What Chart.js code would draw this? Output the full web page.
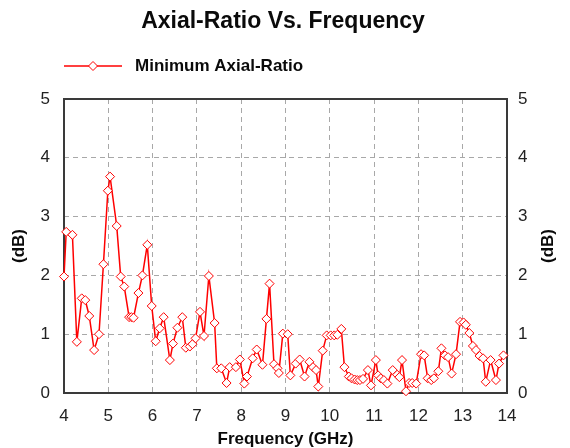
<!DOCTYPE html>
<html>
<head>
<meta charset="utf-8">
<script src="https://cdn.jsdelivr.net/npm/chart.js@4/dist/chart.umd.min.js"></script>
<style>
  html, body { margin: 0; padding: 0; background: #fff; }
  #wrap { width: 570px; height: 448px; }
</style>
</head>
<body>
<div id="wrap"><canvas id="c" width="570" height="448"></canvas></div>
<script>
const chartTitle = "Axial-Ratio Vs. Frequency";
const seriesName = "Minimum Axial-Ratio";
const xAxisTitle = "Frequency (GHz)";
const yAxisTitle = "(dB)";
const xTicks = [4, 5, 6, 7, 8, 9, 10, 11, 12, 13, 14];
const yTicks = [0, 1, 2, 3, 4, 5];

const freqGHz = [
  4.00, 4.05, 4.19, 4.29, 4.40, 4.48, 4.57, 4.68, 4.79, 4.89,
  4.99, 5.04, 5.19, 5.28, 5.36, 5.47, 5.52, 5.57, 5.68, 5.77,
  5.88, 5.98, 6.07, 6.16, 6.25, 6.39, 6.46, 6.56, 6.67, 6.75,
  6.84, 6.90, 6.97, 7.07, 7.16, 7.27, 7.40, 7.45, 7.55, 7.67,
  7.74, 7.88, 7.97, 8.07, 8.13, 8.26, 8.35, 8.48, 8.57, 8.64,
  8.74, 8.82, 8.85, 8.94, 9.05, 9.11, 9.23, 9.32, 9.43, 9.54,
  9.62, 9.69, 9.74, 9.84, 9.93, 10.02, 10.10, 10.17, 10.26, 10.33,
  10.43, 10.49, 10.56, 10.62, 10.68, 10.75, 10.86, 10.93, 11.04, 11.09,
  11.15, 11.22, 11.30, 11.42, 11.52, 11.57, 11.63, 11.72, 11.79, 11.86,
  11.95, 12.06, 12.13, 12.21, 12.29, 12.35, 12.45, 12.52, 12.60, 12.67,
  12.75, 12.85, 12.94, 13.02, 13.07, 13.15, 13.23, 13.30, 13.38, 13.46,
  13.52, 13.63, 13.75, 13.82, 13.92
];
const axialRatio = [
  1.98, 2.74, 2.69, 0.87, 1.61, 1.58, 1.31, 0.73, 1.00, 2.19,
  3.44, 3.68, 2.84, 1.98, 1.81, 1.29, 1.29, 1.28, 1.70, 2.00,
  2.52, 1.48, 0.88, 1.10, 1.29, 0.56, 0.84, 1.11, 1.29, 0.77,
  0.79, 0.83, 0.93, 1.38, 0.97, 1.99, 1.19, 0.42, 0.42, 0.17,
  0.44, 0.44, 0.57, 0.16, 0.28, 0.59, 0.74, 0.48, 1.26, 1.86,
  0.49, 0.42, 0.34, 1.01, 1.00, 0.30, 0.50, 0.57, 0.28, 0.53,
  0.44, 0.39, 0.11, 0.72, 0.98, 0.98, 0.98, 0.99, 1.09, 0.44,
  0.28, 0.25, 0.23, 0.22, 0.22, 0.24, 0.39, 0.13, 0.56, 0.30,
  0.25, 0.22, 0.16, 0.39, 0.31, 0.27, 0.56, 0.03, 0.17, 0.17,
  0.16, 0.66, 0.64, 0.25, 0.22, 0.25, 0.37, 0.76, 0.64, 0.61,
  0.33, 0.66, 1.21, 1.20, 1.16, 1.02, 0.80, 0.73, 0.63, 0.59,
  0.19, 0.56, 0.22, 0.50, 0.64
];

const RED = '#ff0000';
const FONT = '"Liberation Sans", Arial, sans-serif';
const TEXT = '#0a0a0a';

const decorPlugin = {
  id: 'decor',
  beforeDatasetsDraw(chart) {
    const { ctx, chartArea: a } = chart;
    ctx.save();
    ctx.strokeStyle = '#3a3a3a';
    ctx.lineWidth = 2;
    ctx.setLineDash([]);
    ctx.strokeRect(a.left, a.top, a.right - a.left, a.bottom - a.top);
    ctx.restore();
  },
  afterDraw(chart) {
    const { ctx, chartArea: a } = chart;
    ctx.save();
    // title
    ctx.fillStyle = TEXT;
    ctx.font = 'bold 23px ' + FONT;
    ctx.textAlign = 'center';
    ctx.textBaseline = 'middle';
    ctx.fillText(chartTitle, 283, 22);
    // legend
    const ly = 66;
    ctx.strokeStyle = RED;
    ctx.lineWidth = 1.5;
    ctx.beginPath();
    ctx.moveTo(64, ly);
    ctx.lineTo(122, ly);
    ctx.stroke();
    ctx.fillStyle = '#fff';
    ctx.lineWidth = 1;
    ctx.beginPath();
    ctx.moveTo(93, ly - 4.5);
    ctx.lineTo(97.5, ly);
    ctx.lineTo(93, ly + 4.5);
    ctx.lineTo(88.5, ly);
    ctx.closePath();
    ctx.fill();
    ctx.stroke();
    ctx.fillStyle = TEXT;
    ctx.font = 'bold 17px ' + FONT;
    ctx.textAlign = 'left';
    ctx.fillText(seriesName, 135, ly);
    // right axis title, rotated like the left one
    ctx.translate(548, (a.top + a.bottom) / 2);
    ctx.rotate(-Math.PI / 2);
    ctx.font = 'bold 17px ' + FONT;
    ctx.textAlign = 'center';
    ctx.fillText(yAxisTitle, 0, 0);
    ctx.restore();
  }
};

const gridOpts = { color: '#a8a8a8', lineWidth: 1, drawTicks: false };
const tickFont = { family: FONT, size: 17 };
const titleFont = { family: FONT, size: 17, weight: 'bold' };

new Chart(document.getElementById('c'), {
  type: 'line',
  data: {
    datasets: [{
      label: seriesName,
      data: freqGHz.map((f, i) => ({ x: f, y: axialRatio[i] })),
      borderColor: RED,
      borderWidth: 1.5,
      backgroundColor: '#ffffff',
      pointStyle: 'rectRot',
      pointRadius: 4.5,
      pointBorderWidth: 1,
      pointBorderColor: RED,
      pointBackgroundColor: '#ffffff',
      tension: 0,
      clip: false
    }]
  },
  options: {
    responsive: false,
    animation: false,
    layout: { padding: { top: 99, left: 0, right: 0, bottom: 0 } },
    plugins: {
      legend: { display: false },
      title: { display: false },
      tooltip: { enabled: false }
    },
    scales: {
      x: {
        type: 'linear',
        position: 'bottom',
        min: xTicks[0],
        max: xTicks[xTicks.length - 1],
        afterBuildTicks(scale) { scale.ticks = xTicks.map(v => ({ value: v })); },
        afterFit(scale) { scale.height = 55; },
        grid: gridOpts,
        border: { display: false, dash: [5, 4] },
        ticks: { font: tickFont, color: '#222', padding: 13, maxRotation: 0 },
        title: { display: true, text: xAxisTitle, font: titleFont, color: TEXT, padding: { top: 0, bottom: -2 } }
      },
      y: {
        type: 'linear',
        position: 'left',
        min: yTicks[0],
        max: yTicks[yTicks.length - 1],
        afterBuildTicks(scale) { scale.ticks = yTicks.map(v => ({ value: v })); },
        afterFit(scale) { scale.width = 64; },
        grid: gridOpts,
        border: { display: false, dash: [5, 4] },
        ticks: { font: tickFont, color: '#222', padding: 14 },
        title: { display: true, text: yAxisTitle, font: titleFont, color: TEXT, padding: { top: 9, bottom: 0 } }
      },
      y2: {
        type: 'linear',
        position: 'right',
        min: yTicks[0],
        max: yTicks[yTicks.length - 1],
        afterBuildTicks(scale) { scale.ticks = yTicks.map(v => ({ value: v })); },
        afterFit(scale) { scale.width = 63; },
        grid: { display: false, drawTicks: false },
        border: { display: false },
        ticks: { font: tickFont, color: '#222', padding: 11 },
        title: { display: false }
      }
    }
  },
  plugins: [decorPlugin]
});
</script>
</body>
</html>
